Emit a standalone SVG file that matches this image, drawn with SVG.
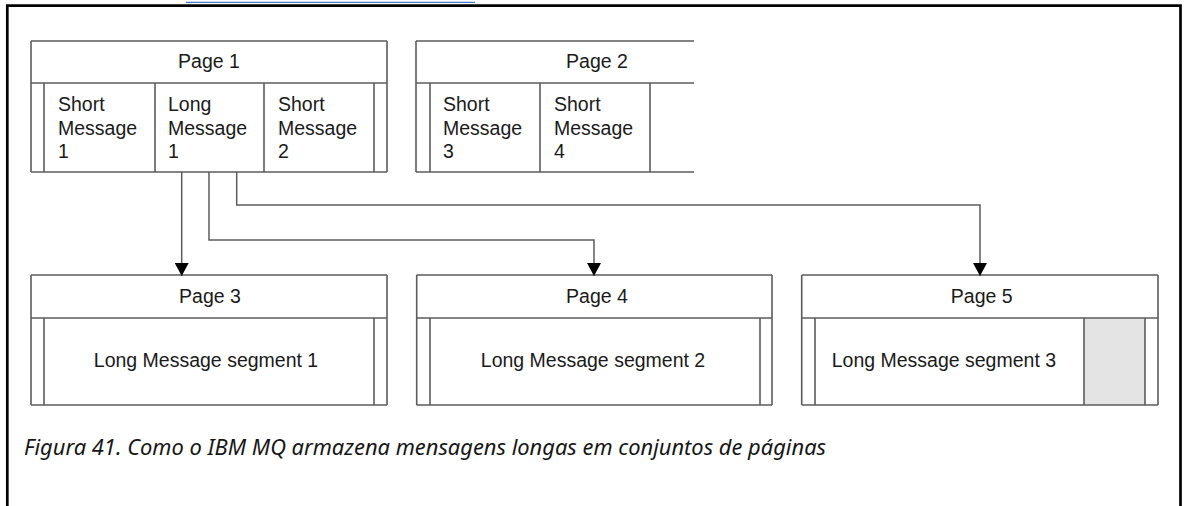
<svg xmlns="http://www.w3.org/2000/svg" width="1184" height="506" viewBox="0 0 1184 506">
<style>
.ln{stroke:#5c5c5c;stroke-width:1.6;fill:none}
.cn{stroke:#5c5c5c;stroke-width:1.5;fill:none}
.t{font-family:"Liberation Sans",Arial,sans-serif;font-size:19.5px;fill:#1a1a1a}
.c{text-anchor:middle}
.cap{font-family:"Noto Sans","Open Sans",sans-serif;font-style:italic;font-size:21px;fill:#161616}
</style>
<defs>
<marker id="arr" markerUnits="userSpaceOnUse" markerWidth="14" markerHeight="14" refX="13" refY="7" orient="auto">
<path d="M0,0 L13,7 L0,14 z" fill="#000"/>
</marker>
</defs>
<rect width="1184" height="506" fill="#fff"/>
<g id="frame">
<line x1="186" y1="2.3" x2="475" y2="2.3" stroke="#4a78c8" stroke-width="1.2"/>
<path d="M7.3 506 V5.7 H1180.5 V506" stroke="#000" stroke-width="2.7" fill="none"/>
</g>
<g id="page1">
<path class="ln" d="M31 41 H387 M31 83 H387 M31 172 H387 M31 41 V172 M387 41 V172 M44 83 V172 M155 83 V172 M264 83 V172 M374 83 V172"/>
<text class="t c" x="209" y="68">Page 1</text>
<text class="t" x="58" y="111">Short</text>
<text class="t" x="58" y="134.5">Message</text>
<text class="t" x="58" y="158">1</text>
<text class="t" x="168" y="111">Long</text>
<text class="t" x="168" y="134.5">Message</text>
<text class="t" x="168" y="158">1</text>
<text class="t" x="278" y="111">Short</text>
<text class="t" x="278" y="134.5">Message</text>
<text class="t" x="278" y="158">2</text>
</g>
<g id="page2">
<path class="ln" d="M416 41 H694 M416 83 H694 M416 172 H694 M416 41 V172 M430 83 V172 M540 83 V172 M650 83 V172"/>
<text class="t c" x="597" y="68">Page 2</text>
<text class="t" x="443" y="111">Short</text>
<text class="t" x="443" y="134.5">Message</text>
<text class="t" x="443" y="158">3</text>
<text class="t" x="554" y="111">Short</text>
<text class="t" x="554" y="134.5">Message</text>
<text class="t" x="554" y="158">4</text>
</g>
<g id="page3">
<path class="ln" d="M31 275 H387 M31 318 H387 M31 405 H387 M31 275 V405 M387 275 V405 M44 318 V405 M374 318 V405"/>
<text class="t c" x="210" y="302.5">Page 3</text>
<text class="t c" x="206" y="367">Long Message segment 1</text>
</g>
<g id="page4">
<path class="ln" d="M416.7 275 H772 M416.7 318 H772 M416.7 405 H772 M416.7 275 V405 M772 275 V405 M430 318 V405 M760 318 V405"/>
<text class="t c" x="597" y="302.5">Page 4</text>
<text class="t c" x="593" y="367">Long Message segment 2</text>
</g>
<g id="page5">
<rect x="1084" y="318" width="61" height="87" fill="#e4e4e4"/>
<path class="ln" d="M801.7 275 H1158 M801.7 318 H1158 M801.7 405 H1158 M801.7 275 V405 M1158 275 V405 M815 318 V405 M1084 318 V405 M1145 318 V405"/>
<text class="t c" x="981.7" y="302.5">Page 5</text>
<text class="t" x="831.7" y="367">Long Message segment 3</text>
</g>
<g id="connectors">
<path class="cn" d="M181.7 172 V276" marker-end="url(#arr)"/>
<path class="cn" d="M209 172 V240 H594 V276" marker-end="url(#arr)"/>
<path class="cn" d="M236.7 172 V205 H980 V276" marker-end="url(#arr)"/>
</g>
<g id="caption">
<text class="cap" x="24" y="455" textLength="802" lengthAdjust="spacingAndGlyphs">Figura 41. Como o IBM MQ armazena mensagens longas em conjuntos de páginas</text>
</g>
</svg>
